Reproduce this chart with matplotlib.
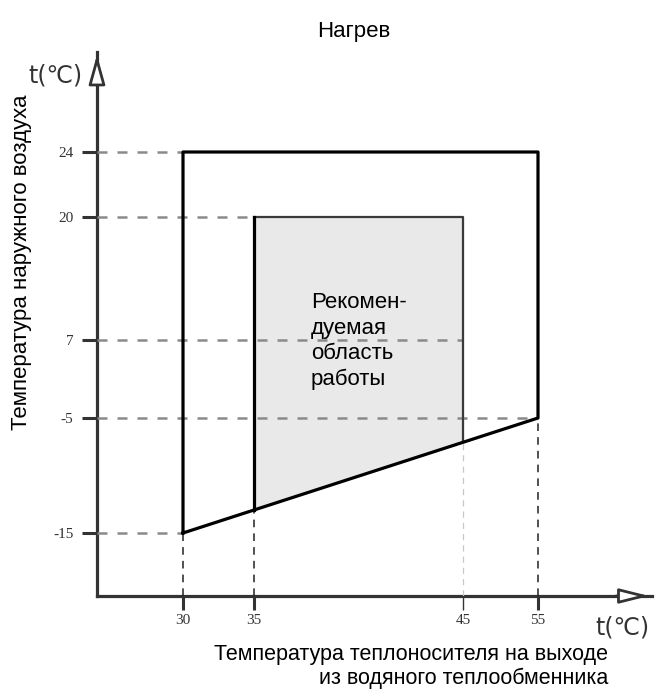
import numpy as np
import matplotlib
matplotlib.use("Agg")
import matplotlib.pyplot as plt

# data
x_ticks = [30, 35, 45, 55]
y_ticks = [-15, -5, 7, 20, 24]
outer_x = [30, 30, 55, 55]
outer_y = [-15, 24, 24, -5]
inner_x = [35, 35, 45, 45]
inner_y = [-13, 20, 20, -7]
inner_text = "Рекомен-\nдуемая\nобласть\nработы"

# schematic (non-linear) axes: value -> pixel anchors
xv = [20, 30, 35, 45, 55, 75]
xp = [97, 183, 254, 463, 538, 652]
yv = [-25, -15, -5, 7, 20, 24, 40]
yp = [596, 533, 418, 340, 217, 152, 52]

W, H = 657, 693
fig = plt.figure(figsize=(W / 100, H / 100), dpi=100)
ax = fig.add_axes([97 / W, 1 - 596 / H, (652 - 97) / W, (596 - 52) / H])

fx = (lambda v: np.interp(v, xv, xp), lambda p: np.interp(p, xp, xv))
ypn = [-p for p in yp]
fy = (lambda v: np.interp(v, yv, ypn), lambda p: np.interp(p, ypn, yv))
ax.set_xscale('function', functions=fx)
ax.set_yscale('function', functions=fy)
ax.set_xlim(xv[0], xv[-1])
ax.set_ylim(yv[0], yv[-1])

# dashed guide lines
x0, y0 = xv[0], yv[0]
corner = {24: 30, 20: 35, 7: 45, -5: 55, -15: 30}
for yt in y_ticks:
    ax.plot([x0, corner[yt]], [yt, yt], ls=(0, (4, 4)), color='#8a8a8a', lw=1.8, zorder=3)
low = dict(zip([30, 35, 45, 55], [-15, -13, -7, -5]))
for xt in x_ticks:
    c = '#c8c8c8' if xt == 45 else '#222222'
    lw = 0.9 if xt == 45 else 1.1
    ax.plot([xt, xt], [y0, low[xt]], ls=(0, (5, 4)), color=c, lw=lw, zorder=3)

# recommended region
ax.fill(inner_x, inner_y, color='#e9e9e9', zorder=1)
ax.plot(inner_x[1:], inner_y[1:], color='#3a3a3a', lw=1.6, zorder=4)
ax.plot(inner_x[:2], inner_y[:2], color='black', lw=2.3, zorder=4)

# full envelope
ax.plot(outer_x + [outer_x[0]], outer_y + [outer_y[0]], color='black', lw=2.3, zorder=5)

ax.spines[['top', 'right']].set_visible(False)
for s in ['left', 'bottom']:
    ax.spines[s].set_color('#333333')
    ax.spines[s].set_linewidth(2.3)
ax.set_xticks(x_ticks)
ax.set_yticks(y_ticks)
ax.set_xticklabels([str(v) for v in x_ticks])
ax.set_yticklabels([str(v) for v in y_ticks])
ax.tick_params(axis='y', length=11, width=2.2, color='#333333', pad=6,
               labelsize=11, labelcolor='#333333')
ax.tick_params(axis='x', length=10, width=2.2, color='#333333', pad=3,
               labelsize=11, labelcolor='#333333')
for lab in ax.get_xticklabels() + ax.get_yticklabels():
    lab.set_family('Liberation Serif')
t45 = ax.xaxis.get_major_ticks()[2]
t45.tick1line.set_color('#aaaaaa')
t45.tick1line.set_markeredgewidth(1.0)

# arrow heads
ax.annotate('', xy=(0, 1), xytext=(0, 0.94), xycoords='axes fraction',
            arrowprops=dict(arrowstyle='-|>,head_length=1.8,head_width=0.5',
                            fc='white', ec='#333333', lw=2.0), annotation_clip=False)
ax.annotate('', xy=(1, 0), xytext=(0.93, 0), xycoords='axes fraction',
            arrowprops=dict(arrowstyle='-|>,head_length=1.8,head_width=0.45',
                            fc='white', ec='#333333', lw=2.0), annotation_clip=False)

sans = 'Liberation Sans'
fig.text(354 / W, 1 - 32 / H, 'Нагрев', ha='center', va='center', fontsize=16, family=sans)
fig.text(22 / W, 1 - 262 / H, 'Температура наружного воздуха', rotation=90,
         ha='center', va='center', fontsize=16, family=sans)
fig.text(608 / W, 1 - 644 / H, 'Температура теплоносителя на выходе\nиз водяного теплообменника',
         ha='right', va='top', multialignment='right', fontsize=15.5, family=sans, linespacing=1.15)
fig.text(311 / W, 1 - 292 / H, inner_text, ha='left', va='top', fontsize=16,
         family=sans, linespacing=1.29)
fig.text(55 / W, 1 - 76 / H, 't(℃)', ha='center', va='center', fontsize=17,
         family='DejaVu Sans', color='#333333')
fig.text(622 / W, 1 - 628 / H, 't(℃)', ha='center', va='center', fontsize=17,
         family='DejaVu Sans', color='#333333')

fig.savefig('out.png', dpi=100)
